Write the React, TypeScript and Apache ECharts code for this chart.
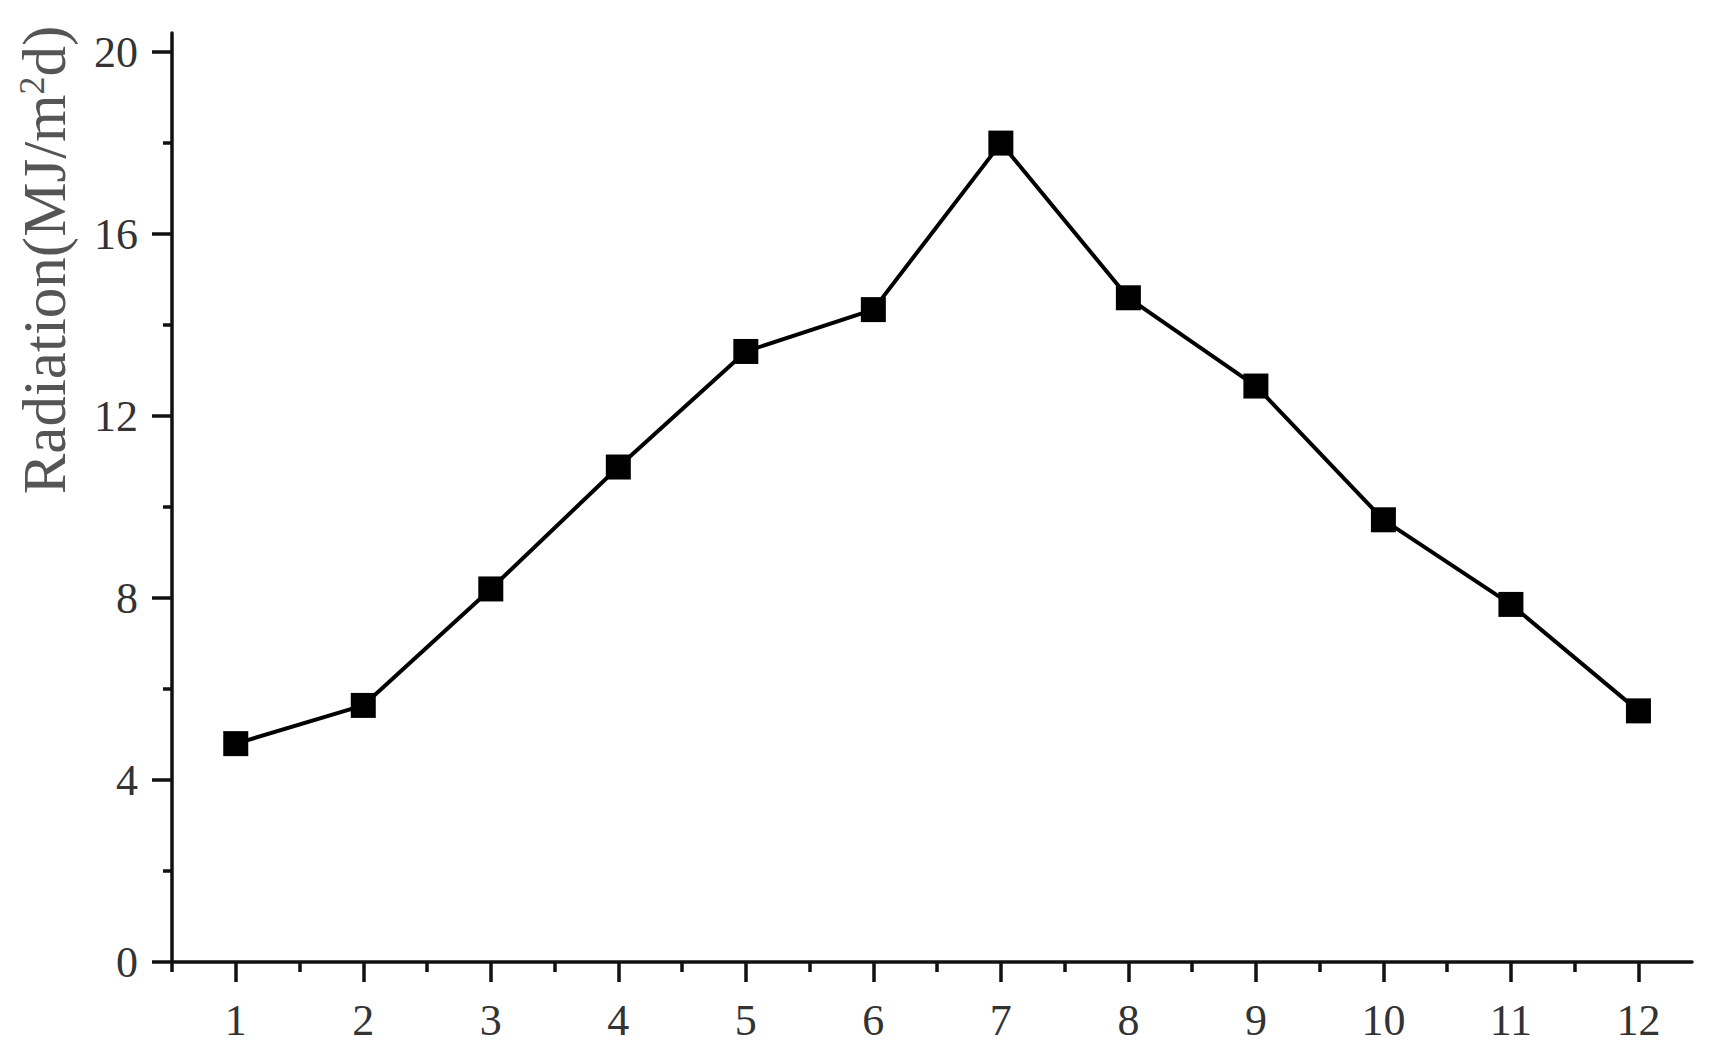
import React, { useEffect, useRef } from "react";
import * as echarts from "echarts";

const months = [1, 2, 3, 4, 5, 6, 7, 8, 9, 10, 11, 12];
const radiation = [4.8, 5.64, 8.2, 10.88, 13.42, 14.34, 18.0, 14.6, 12.66, 9.72, 7.86, 5.52];
const yMajorTicks = [0, 4, 8, 12, 16, 20];
const yMinorTicks = [2, 6, 10, 14, 18];
const xMinorTicks = [0.5, 1.5, 2.5, 3.5, 4.5, 5.5, 6.5, 7.5, 8.5, 9.5, 10.5, 11.5];

export default function App() {
  const ref = useRef<HTMLDivElement>(null);
  useEffect(() => {
    if (!ref.current) return;
    const chart = echarts.init(ref.current, undefined, { renderer: "svg" });
    const font = "'Liberation Serif', 'Times New Roman', serif";
    const labelStyle = { color: "#333", fontSize: 44, fontFamily: font };
    const common = { min: 0.5, max: 12.42, type: "value" as const };
    const axisColor = "#111";
    chart.setOption({
      animation: false,
      backgroundColor: "#fff",
      grid: { left: 172, right: 18, top: 33, bottom: 100, containLabel: false },
      xAxis: [
        {
          ...common,
          position: "bottom",
          axisLine: { show: true, onZero: false, lineStyle: { color: axisColor, width: 3.5 } },
          axisTick: { show: true, inside: false, length: 20, lineStyle: { color: axisColor, width: 3.5 }, customValues: months },
          axisLabel: { ...labelStyle, margin: 36, customValues: months },
          splitLine: { show: false },
        },
        {
          ...common,
          position: "bottom",
          axisLine: { show: false },
          axisTick: { show: true, inside: false, length: 10, lineStyle: { color: axisColor, width: 3.5 }, customValues: xMinorTicks },
          axisLabel: { show: false },
          splitLine: { show: false },
        },
      ],
      yAxis: [
        {
          type: "value",
          min: 0,
          max: 20.42,
          position: "left",
          axisLine: { show: true, onZero: false, lineStyle: { color: axisColor, width: 3.5 } },
          axisTick: { show: true, inside: false, length: 20, lineStyle: { color: axisColor, width: 3.5 }, customValues: yMajorTicks },
          axisLabel: { ...labelStyle, margin: 34, customValues: yMajorTicks },
          splitLine: { show: false },
        },
        {
          type: "value",
          min: 0,
          max: 20.42,
          position: "left",
          axisLine: { show: false },
          axisTick: { show: true, inside: false, length: 9, lineStyle: { color: axisColor, width: 3.5 }, customValues: yMinorTicks },
          axisLabel: { show: false },
          splitLine: { show: false },
        },
      ],
      graphic: [
        {
          type: "text",
          x: 44,
          y: 260,
          rotation: Math.PI / 2,
          style: {
            text: "{a|Radiation(MJ/m}{s|2}{a|d)}",
            align: "center",
            verticalAlign: "middle",
            fill: "#555",
            rich: {
              a: { fontSize: 61, fontFamily: font, fill: "#555", color: "#555" },
              s: { fontSize: 36, fontFamily: font, fill: "#555", color: "#555", verticalAlign: "top", padding: [0, 0, 22, 0] },
            },
          },
        },
      ],
      series: [
        {
          type: "line",
          xAxisIndex: 0,
          yAxisIndex: 0,
          data: months.map((m, i) => [m, radiation[i]]),
          symbol: "rect",
          symbolSize: 25,
          lineStyle: { color: "#000", width: 4 },
          itemStyle: { color: "#000" },
        },
      ],
    });
    return () => chart.dispose();
  }, []);
  return (
    <div
      ref={ref}
      style={{ position: "fixed", left: 0, top: 0, width: 1710, height: 1062, background: "#fff" }}
    />
  );
}
